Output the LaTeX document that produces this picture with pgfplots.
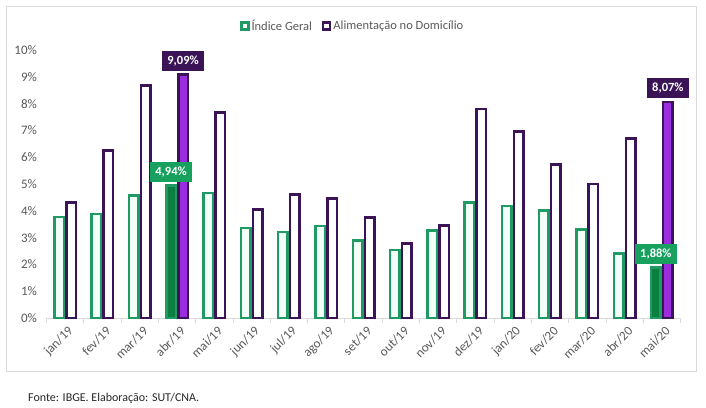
\documentclass[border=0pt]{standalone}
\usepackage{pgfplots}
\pgfplotsset{compat=1.18}
\usepackage{fontspec}
\setmainfont{Carlito}
\definecolor{gline}{HTML}{1F9A62}
\definecolor{gfill}{HTML}{F0FFF7}
\definecolor{gdark}{HTML}{0A7F3F}
\definecolor{glabel}{HTML}{17A05E}
\definecolor{pline}{HTML}{3B1357}
\definecolor{pdark}{HTML}{9B2DDE}
\definecolor{txtgray}{HTML}{595959}
\definecolor{axgray}{HTML}{D9D9D9}
\pgfplotstableread{
x g p
0 3.78 4.31
1 3.89 6.25
2 4.58 8.68
3 4.94 9.09
4 4.66 7.68
5 3.37 4.05
6 3.22 4.61
7 3.43 4.47
8 2.89 3.76
9 2.54 2.79
10 3.27 3.46
11 4.31 7.81
12 4.19 6.97
13 4.01 5.73
14 3.30 5.01
15 2.40 6.71
16 1.88 8.07
}\data
\begin{document}
\begin{tikzpicture}
\path[use as bounding box] (0pt,0pt) rectangle (706pt,407pt);
\draw[axgray, line width=0.8pt] (6pt,401pt) rectangle (696.5pt,35.5pt);
\begin{axis}[
  /pgf/number format/assume math mode=true,
  at={(46.5pt,89pt)}, anchor=south west,
  scale only axis, width=634pt, height=267.8pt,
  xmin=-0.5, xmax=16.5, ymin=0, ymax=10,
  axis x line*=bottom, axis y line*=left,
  y axis line style={draw=none},
  x axis line style={axgray, line width=0.8pt},
  ytick={0,1,...,10},
  yticklabel={\pgfmathprintnumber{\tick}\%},
  y tick label style={font=\fontsize{13}{15}\selectfont, text=txtgray, xshift=-6pt},
  ytick style={draw=none},
  xtick={0,...,16},
  xticklabels={jan/19,fev/19,mar/19,abr/19,mai/19,jun/19,jul/19,ago/19,set/19,out/19,nov/19,dez/19,jan/20,fev/20,mar/20,abr/20,mai/20},
  x tick label style={font=\fontsize{13}{15}\selectfont, text=txtgray, rotate=45, anchor=east, xshift=3pt, yshift=-9pt},
  major x tick style={draw=none},
  minor xtick={-0.5,0.5,...,16.5},
  minor x tick style={axgray, line width=0.8pt},
  minor tick length=5pt,
  xtick align=outside,
  ybar, bar width=9.5pt,
  legend columns=2,
  legend style={at={(0.483,1.09)}, anchor=center, draw=none, fill=none,
    font=\fontsize{12.5}{14}\selectfont\color{txtgray},
    /tikz/every even column/.append style={column sep=8pt}},
  legend image code/.code={\draw[#1, fill=white, line width=2.4pt] (0pt,-3.5pt) rectangle (7pt,3.5pt);},
  every node near coord/.append style={font=\fontsize{12.5}{14}\selectfont\bfseries, text=white, anchor=south,
    text height=9pt, text depth=2pt, inner xsep=5pt, inner ysep=4.5pt, yshift=2.5pt},
]
\addplot[draw=gline, fill=gfill, line width=2.5pt, bar shift=-6pt] table[x=x,y=g]{\data};
\addlegendentry{Índice Geral}
\addplot[draw=pline, fill=white, line width=2.5pt, bar shift=6pt] table[x=x,y=p]{\data};
\addlegendentry{Alimentação no Domicílio}
\addplot[forget plot, draw=gline, fill=gdark, line width=2.5pt, bar shift=-6pt,
  point meta=explicit symbolic, nodes near coords,
  every node near coord/.append style={fill=glabel}]
  coordinates {(3,4.94) [4,94\%] (16,1.88) [1,88\%]};
\addplot[forget plot, draw=pline, fill=pdark, line width=2.5pt, bar shift=6pt,
  point meta=explicit symbolic, nodes near coords,
  every node near coord/.append style={fill=pline}]
  coordinates {(3,9.09) [9,09\%] (16,8.07) [8,07\%]};
\end{axis}
\node[anchor=west, font=\fontsize{12}{14}\selectfont, text=black!85, inner sep=0pt] at (28pt,9pt) {Fonte: IBGE. Elaboração: SUT/CNA.};
\end{tikzpicture}
\end{document}
